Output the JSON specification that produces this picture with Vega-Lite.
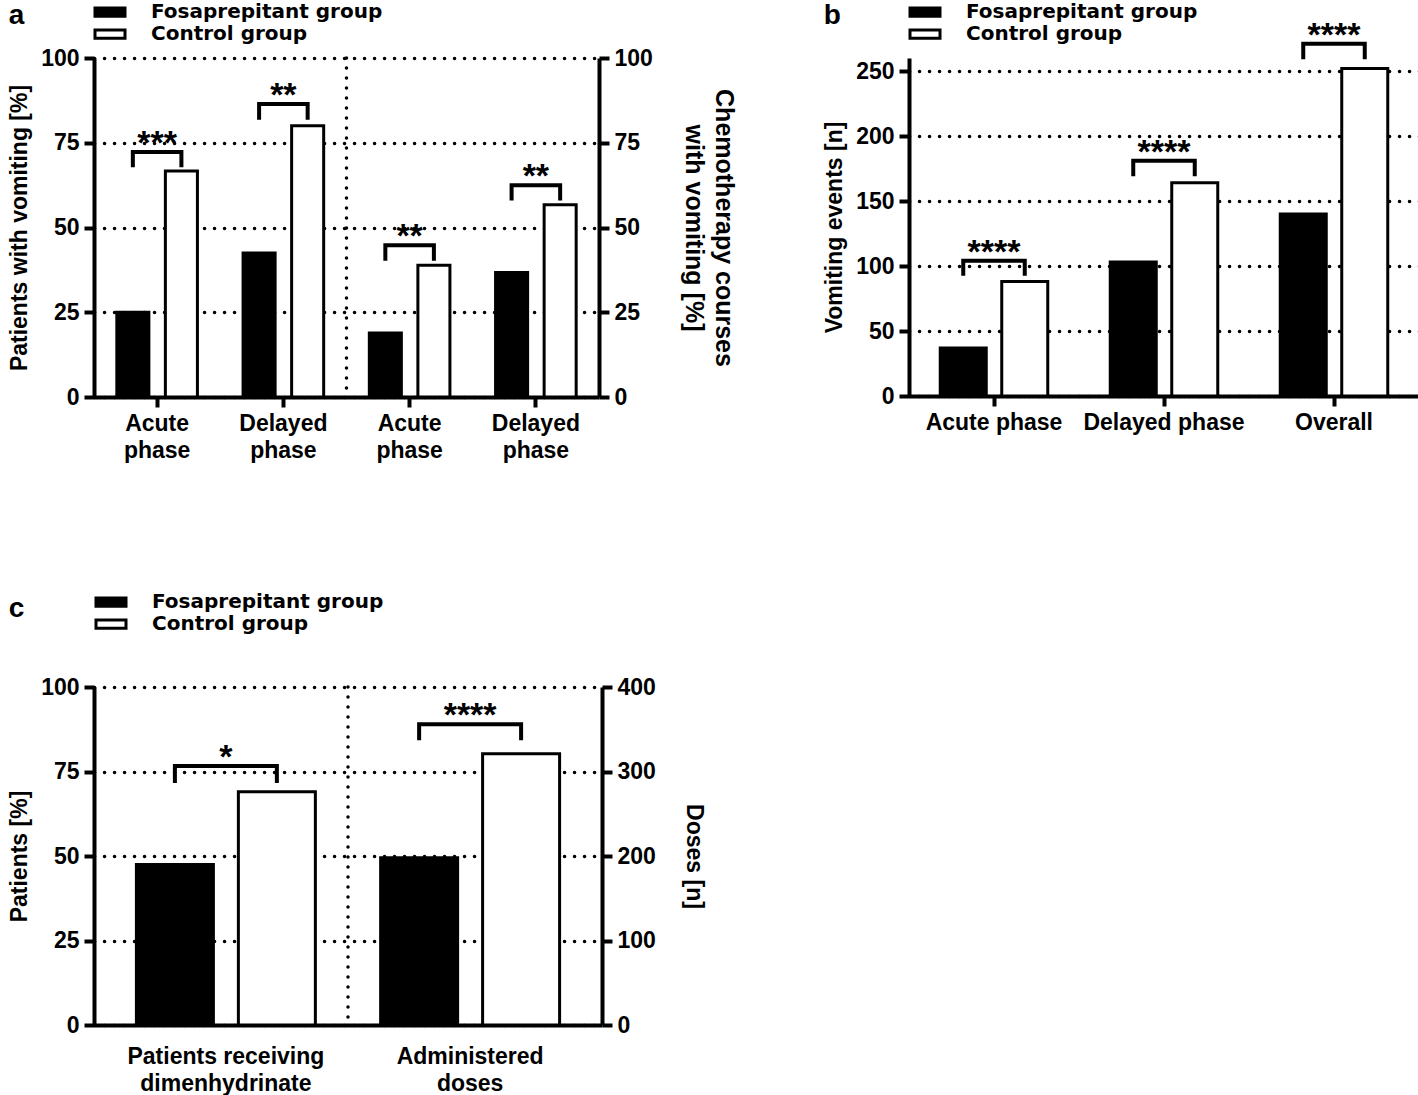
{
  "$schema": "https://vega.github.io/schema/vega-lite/v6.json",
  "padding": {"left": 8, "top": 2, "right": 0, "bottom": 0},
  "datasets": {
    "a_patients": [
      {"category": "Patients: Acute phase", "group": "Fosaprepitant group", "value": 25.0},
      {"category": "Patients: Acute phase", "group": "Control group", "value": 66.7},
      {"category": "Patients: Delayed phase", "group": "Fosaprepitant group", "value": 42.5},
      {"category": "Patients: Delayed phase", "group": "Control group", "value": 80.0}
    ],
    "a_courses": [
      {"category": "Courses: Acute phase", "group": "Fosaprepitant group", "value": 18.9},
      {"category": "Courses: Acute phase", "group": "Control group", "value": 38.9},
      {"category": "Courses: Delayed phase", "group": "Fosaprepitant group", "value": 36.7},
      {"category": "Courses: Delayed phase", "group": "Control group", "value": 56.7}
    ],
    "a_patients_br": [
      {"category": "Patients: Acute phase", "group": "Fosaprepitant group", "step": 1, "value": 67.8},
      {"category": "Patients: Acute phase", "group": "Fosaprepitant group", "step": 2, "value": 72.3},
      {"category": "Patients: Acute phase", "group": "Control group", "step": 3, "value": 72.3},
      {"category": "Patients: Acute phase", "group": "Control group", "step": 4, "value": 67.8},
      {"category": "Patients: Delayed phase", "group": "Fosaprepitant group", "step": 1, "value": 81.8},
      {"category": "Patients: Delayed phase", "group": "Fosaprepitant group", "step": 2, "value": 86.4},
      {"category": "Patients: Delayed phase", "group": "Control group", "step": 3, "value": 86.4},
      {"category": "Patients: Delayed phase", "group": "Control group", "step": 4, "value": 81.8}
    ],
    "a_courses_br": [
      {"category": "Courses: Acute phase", "group": "Fosaprepitant group", "step": 1, "value": 40.2},
      {"category": "Courses: Acute phase", "group": "Fosaprepitant group", "step": 2, "value": 44.8},
      {"category": "Courses: Acute phase", "group": "Control group", "step": 3, "value": 44.8},
      {"category": "Courses: Acute phase", "group": "Control group", "step": 4, "value": 40.2},
      {"category": "Courses: Delayed phase", "group": "Fosaprepitant group", "step": 1, "value": 58.0},
      {"category": "Courses: Delayed phase", "group": "Fosaprepitant group", "step": 2, "value": 62.5},
      {"category": "Courses: Delayed phase", "group": "Control group", "step": 3, "value": 62.5},
      {"category": "Courses: Delayed phase", "group": "Control group", "step": 4, "value": 58.0}
    ],
    "a_patients_sig": [
      {"category": "Patients: Acute phase", "value": 72.3, "label": "***"},
      {"category": "Patients: Delayed phase", "value": 86.4, "label": "**"}
    ],
    "a_courses_sig": [
      {"category": "Courses: Acute phase", "value": 44.8, "label": "**"},
      {"category": "Courses: Delayed phase", "value": 62.5, "label": "**"}
    ],
    "b_events": [
      {"category": "Acute phase", "group": "Fosaprepitant group", "value": 37},
      {"category": "Acute phase", "group": "Control group", "value": 88},
      {"category": "Delayed phase", "group": "Fosaprepitant group", "value": 103},
      {"category": "Delayed phase", "group": "Control group", "value": 164},
      {"category": "Overall", "group": "Fosaprepitant group", "value": 140},
      {"category": "Overall", "group": "Control group", "value": 252}
    ],
    "b_br": [
      {"category": "Acute phase", "group": "Fosaprepitant group", "step": 1, "value": 92.5},
      {"category": "Acute phase", "group": "Fosaprepitant group", "step": 2, "value": 104},
      {"category": "Acute phase", "group": "Control group", "step": 3, "value": 104},
      {"category": "Acute phase", "group": "Control group", "step": 4, "value": 92.5},
      {"category": "Delayed phase", "group": "Fosaprepitant group", "step": 1, "value": 169},
      {"category": "Delayed phase", "group": "Fosaprepitant group", "step": 2, "value": 181},
      {"category": "Delayed phase", "group": "Control group", "step": 3, "value": 181},
      {"category": "Delayed phase", "group": "Control group", "step": 4, "value": 169},
      {"category": "Overall", "group": "Fosaprepitant group", "step": 1, "value": 259},
      {"category": "Overall", "group": "Fosaprepitant group", "step": 2, "value": 271},
      {"category": "Overall", "group": "Control group", "step": 3, "value": 271},
      {"category": "Overall", "group": "Control group", "step": 4, "value": 259}
    ],
    "b_sig": [
      {"category": "Acute phase", "value": 104, "label": "****"},
      {"category": "Delayed phase", "value": 181, "label": "****"},
      {"category": "Overall", "value": 271, "label": "****"}
    ],
    "c_patients": [
      {"category": "Patients receiving dimenhydrinate", "group": "Fosaprepitant group", "value": 47.5},
      {"category": "Patients receiving dimenhydrinate", "group": "Control group", "value": 69.0}
    ],
    "c_doses": [
      {"category": "Administered doses", "group": "Fosaprepitant group", "value": 198},
      {"category": "Administered doses", "group": "Control group", "value": 321}
    ],
    "c_patients_br": [
      {"category": "Patients receiving dimenhydrinate", "group": "Fosaprepitant group", "step": 1, "value": 71.6},
      {"category": "Patients receiving dimenhydrinate", "group": "Fosaprepitant group", "step": 2, "value": 76.6},
      {"category": "Patients receiving dimenhydrinate", "group": "Control group", "step": 3, "value": 76.6},
      {"category": "Patients receiving dimenhydrinate", "group": "Control group", "step": 4, "value": 71.6}
    ],
    "c_doses_br": [
      {"category": "Administered doses", "group": "Fosaprepitant group", "step": 1, "value": 337},
      {"category": "Administered doses", "group": "Fosaprepitant group", "step": 2, "value": 356},
      {"category": "Administered doses", "group": "Control group", "step": 3, "value": 356},
      {"category": "Administered doses", "group": "Control group", "step": 4, "value": 337}
    ],
    "c_patients_sig": [
      {"category": "Patients receiving dimenhydrinate", "value": 76.6, "label": "*"}
    ],
    "c_doses_sig": [
      {"category": "Administered doses", "value": 356, "label": "****"}
    ]
  },
  "vconcat": [
    {
      "hconcat": [
        {
          "title": {"text": "a", "offset": -28},
          "width": 505,
          "height": 339,
          "layer": [
            {
              "layer": [
                {
                  "data": {"name": "a_patients"},
                  "mark": {"type": "bar", "stroke": "black", "strokeWidth": 3},
                  "encoding": {
                    "x": {"field": "category", "type": "nominal", "scale": {"domain": ["Patients: Acute phase", "Patients: Delayed phase", "Courses: Acute phase", "Courses: Delayed phase"], "paddingInner": 0, "paddingOuter": 0}, "axis": {"title": null, "labelExpr": "split(split(datum.value, ': ')[1], ' ')"}},
                    "xOffset": {"field": "group", "type": "nominal", "scale": {"domain": ["Fosaprepitant group", "Control group"], "paddingInner": 0.34, "paddingOuter": 0.47}},
                    "y": {"field": "value", "type": "quantitative", "title": "Patients with vomiting [%]", "scale": {"domain": [0, 100]}, "axis": {"orient": "left", "values": [0, 25, 50, 75, 100]}},
                    "fill": {"field": "group", "type": "nominal", "scale": {"domain": ["Fosaprepitant group", "Control group"], "range": ["black", "white"]}, "legend": {"legendX": 6, "legendY": -56}}
                  }
                },
                {
                  "data": {"name": "a_patients_br"},
                  "mark": {"type": "line", "color": "black", "strokeWidth": 4, "strokeJoin": "miter", "strokeCap": "butt"},
                  "encoding": {
                    "x": {"field": "category", "type": "nominal"},
                    "xOffset": {"field": "group", "type": "nominal"},
                    "y": {"field": "value", "type": "quantitative", "title": "Patients with vomiting [%]"},
                    "detail": {"field": "category"},
                    "order": {"field": "step", "type": "quantitative"}
                  }
                },
                {
                  "data": {"name": "a_patients_sig"},
                  "mark": {"type": "text"},
                  "encoding": {
                    "x": {"field": "category", "type": "nominal"},
                    "y": {"field": "value", "type": "quantitative", "title": "Patients with vomiting [%]"},
                    "text": {"field": "label"}
                  }
                }
              ]
            },
            {
              "layer": [
                {
                  "data": {"name": "a_courses"},
                  "mark": {"type": "bar", "stroke": "black", "strokeWidth": 3},
                  "encoding": {
                    "x": {"field": "category", "type": "nominal"},
                    "xOffset": {"field": "group", "type": "nominal"},
                    "y": {"field": "value", "type": "quantitative", "title": ["Chemotherapy courses", "with vomiting [%]"], "scale": {"domain": [0, 100]}, "axis": {"orient": "right", "grid": false, "values": [0, 25, 50, 75, 100], "titlePadding": 28, "titleFontSize": 25, "titleLineHeight": 30}},
                    "fill": {"field": "group", "type": "nominal"}
                  }
                },
                {
                  "data": {"name": "a_courses_br"},
                  "mark": {"type": "line", "color": "black", "strokeWidth": 4, "strokeJoin": "miter", "strokeCap": "butt"},
                  "encoding": {
                    "x": {"field": "category", "type": "nominal"},
                    "xOffset": {"field": "group", "type": "nominal"},
                    "y": {"field": "value", "type": "quantitative", "title": ["Chemotherapy courses", "with vomiting [%]"]},
                    "detail": {"field": "category"},
                    "order": {"field": "step", "type": "quantitative"}
                  }
                },
                {
                  "data": {"name": "a_courses_sig"},
                  "mark": {"type": "text"},
                  "encoding": {
                    "x": {"field": "category", "type": "nominal"},
                    "y": {"field": "value", "type": "quantitative", "title": ["Chemotherapy courses", "with vomiting [%]"]},
                    "text": {"field": "label"}
                  }
                }
              ]
            },
            {
              "data": {"values": [{"category": "Patients: Delayed phase"}]},
              "mark": {"type": "rule", "color": "black", "strokeWidth": 3.5, "strokeDash": [0.1, 9.9], "strokeCap": "round"},
              "encoding": {"x": {"field": "category", "type": "nominal", "bandPosition": 1}}
            }
          ],
          "resolve": {"scale": {"y": "independent"}, "axis": {"y": "independent"}}
        },
        {
          "title": {"text": "b", "offset": -28},
          "width": 510,
          "height": 338,
          "layer": [
            {
              "data": {"name": "b_events"},
              "mark": {"type": "bar", "stroke": "black", "strokeWidth": 3},
              "encoding": {
                "x": {"field": "category", "type": "nominal", "scale": {"domain": ["Acute phase", "Delayed phase", "Overall"], "paddingInner": 0, "paddingOuter": 0}, "axis": {"title": null}},
                "xOffset": {"field": "group", "type": "nominal", "scale": {"domain": ["Fosaprepitant group", "Control group"], "paddingInner": 0.252, "paddingOuter": 0.508}},
                "y": {"field": "value", "type": "quantitative", "title": "Vomiting events [n]", "scale": {"domain": [0, 260]}, "axis": {"values": [0, 50, 100, 150, 200, 250]}},
                "fill": {"field": "group", "type": "nominal", "scale": {"domain": ["Fosaprepitant group", "Control group"], "range": ["black", "white"]}, "legend": {"legendX": 6, "legendY": -56}}
              }
            },
            {
              "data": {"name": "b_br"},
              "mark": {"type": "line", "color": "black", "strokeWidth": 4, "strokeJoin": "miter", "strokeCap": "butt"},
              "encoding": {
                "x": {"field": "category", "type": "nominal"},
                "xOffset": {"field": "group", "type": "nominal"},
                "y": {"field": "value", "type": "quantitative", "title": "Vomiting events [n]"},
                "detail": {"field": "category"},
                "order": {"field": "step", "type": "quantitative"}
              }
            },
            {
              "data": {"name": "b_sig"},
              "mark": {"type": "text"},
              "encoding": {
                "x": {"field": "category", "type": "nominal"},
                "y": {"field": "value", "type": "quantitative", "title": "Vomiting events [n]"},
                "text": {"field": "label"}
              }
            }
          ]
        }
      ],
      "spacing": 87,
      "resolve": {"scale": {"fill": "independent", "xOffset": "independent"}, "legend": {"fill": "independent"}}
    },
    {
      "title": {"text": "c", "offset": -31},
      "width": 508,
      "height": 338,
      "layer": [
        {
          "layer": [
            {
              "data": {"name": "c_patients"},
              "mark": {"type": "bar", "stroke": "black", "strokeWidth": 3},
              "encoding": {
                "x": {"field": "category", "type": "nominal", "scale": {"domain": ["Patients receiving dimenhydrinate", "Administered doses"], "paddingInner": 0, "paddingOuter": 0.04}, "axis": {"title": null, "ticks": false, "labelPadding": 20, "labelExpr": "datum.value == 'Administered doses' ? ['Administered', 'doses'] : ['Patients receiving', 'dimenhydrinate']"}},
                "xOffset": {"field": "group", "type": "nominal", "scale": {"domain": ["Fosaprepitant group", "Control group"], "paddingInner": 0.245, "paddingOuter": 0.32}},
                "y": {"field": "value", "type": "quantitative", "title": "Patients [%]", "scale": {"domain": [0, 100]}, "axis": {"orient": "left", "values": [0, 25, 50, 75, 100]}},
                "fill": {"field": "group", "type": "nominal", "scale": {"domain": ["Fosaprepitant group", "Control group"], "range": ["black", "white"]}, "legend": {"legendX": 7, "legendY": -95}}
              }
            },
            {
              "data": {"name": "c_patients_br"},
              "mark": {"type": "line", "color": "black", "strokeWidth": 4, "strokeJoin": "miter", "strokeCap": "butt"},
              "encoding": {
                "x": {"field": "category", "type": "nominal"},
                "xOffset": {"field": "group", "type": "nominal"},
                "y": {"field": "value", "type": "quantitative", "title": "Patients [%]"},
                "detail": {"field": "category"},
                "order": {"field": "step", "type": "quantitative"}
              }
            },
            {
              "data": {"name": "c_patients_sig"},
              "mark": {"type": "text"},
              "encoding": {
                "x": {"field": "category", "type": "nominal"},
                "y": {"field": "value", "type": "quantitative", "title": "Patients [%]"},
                "text": {"field": "label"}
              }
            }
          ]
        },
        {
          "layer": [
            {
              "data": {"name": "c_doses"},
              "mark": {"type": "bar", "stroke": "black", "strokeWidth": 3},
              "encoding": {
                "x": {"field": "category", "type": "nominal"},
                "xOffset": {"field": "group", "type": "nominal"},
                "y": {"field": "value", "type": "quantitative", "title": "Doses [n]", "scale": {"domain": [0, 400]}, "axis": {"orient": "right", "grid": false, "values": [0, 100, 200, 300, 400], "titlePadding": 26}},
                "fill": {"field": "group", "type": "nominal"}
              }
            },
            {
              "data": {"name": "c_doses_br"},
              "mark": {"type": "line", "color": "black", "strokeWidth": 4, "strokeJoin": "miter", "strokeCap": "butt"},
              "encoding": {
                "x": {"field": "category", "type": "nominal"},
                "xOffset": {"field": "group", "type": "nominal"},
                "y": {"field": "value", "type": "quantitative", "title": "Doses [n]"},
                "detail": {"field": "category"},
                "order": {"field": "step", "type": "quantitative"}
              }
            },
            {
              "data": {"name": "c_doses_sig"},
              "mark": {"type": "text"},
              "encoding": {
                "x": {"field": "category", "type": "nominal"},
                "y": {"field": "value", "type": "quantitative", "title": "Doses [n]"},
                "text": {"field": "label"}
              }
            }
          ]
        },
        {
          "data": {"values": [{"category": "Patients receiving dimenhydrinate"}]},
          "mark": {"type": "rule", "color": "black", "strokeWidth": 3.5, "strokeDash": [0.1, 9.9], "strokeCap": "round"},
          "encoding": {"x": {"field": "category", "type": "nominal", "bandPosition": 1}}
        }
      ],
      "resolve": {"scale": {"y": "independent"}, "axis": {"y": "independent"}}
    }
  ],
  "spacing": 130,
  "resolve": {"scale": {"fill": "independent", "xOffset": "independent"}, "legend": {"fill": "independent"}},
  "config": {
    "font": "Liberation Sans",
    "background": "white",
    "view": {"stroke": null},
    "axis": {
      "labelFont": "Liberation Sans", "labelFontSize": 23, "labelFontWeight": "bold", "labelColor": "black",
      "titleFont": "Liberation Sans", "titleFontSize": 23, "titleFontWeight": "bold", "titleColor": "black",
      "titleLineHeight": 28,
      "domainColor": "black", "domainWidth": 4, "tickColor": "black", "tickWidth": 4, "tickSize": 10,
      "labelPadding": 5, "titlePadding": 9,
      "gridColor": "black", "gridWidth": 3.5, "gridDash": [0.1, 9.9], "gridCap": "round", "gridOpacity": 1
    },
    "axisX": {"grid": false, "labelAngle": 0, "labelLineHeight": 27, "labelPadding": 5, "labelLimit": 0},
    "axisY": {"grid": true},
    "legend": {
      "orient": "none", "title": null,
      "symbolType": "M-2,-0.55H2V0.55H-2Z", "symbolSize": 225,
      "symbolStrokeColor": "black", "symbolStrokeWidth": 3,
      "labelFont": "DejaVu Sans", "labelFontSize": 20, "labelFontWeight": "bold", "labelColor": "black",
      "labelOffset": 31, "rowPadding": 0, "padding": 0, "labelLimit": 400
    },
    "title": {"font": "Liberation Sans", "fontSize": 28, "fontWeight": "bold", "color": "black", "anchor": "start", "frame": "bounds"},
    "text": {"font": "Liberation Sans", "fontSize": 34, "fontWeight": "bold", "color": "black", "baseline": "alphabetic", "align": "center", "dy": 2}
  }
}
